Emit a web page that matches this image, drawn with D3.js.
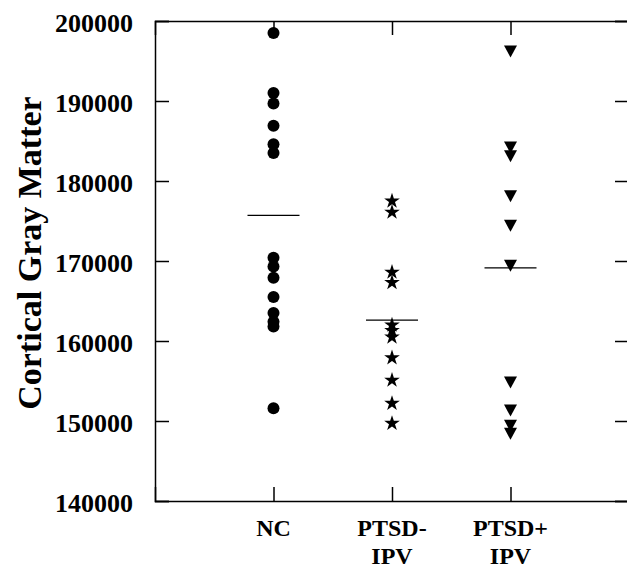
<!DOCTYPE html>
<html>
<head>
<meta charset="utf-8">
<script src="https://cdn.jsdelivr.net/npm/d3@7"></script>
<style>
  body { margin: 0; background: #fff; }
  text { font-family: "Liberation Serif", "Times New Roman", serif; font-weight: bold; fill: #000; }
</style>
</head>
<body>
<svg id="chart" width="627" height="568"></svg>
<script>
// group labels (two lines each)
var groups = [["NC"], ["PTSD-", "IPV"], ["PTSD+", "IPV"]];

var ncValues = [198500, 191000, 189700, 186900, 184600, 183500, 170400, 169300,
                167900, 165500, 163500, 162400, 161800, 151600];
var ptsdNoIpvValues = [177600, 176200, 168700, 167400, 162100, 161400, 160600,
                       158000, 155200, 152300, 149800];
var ptsdIpvValues = [196200, 184200, 183100, 178100, 174400, 169400, 154800,
                     151300, 149400, 148400];
var groupMeans = [175700, 162600, 169150];

var yTicks = [140000, 150000, 160000, 170000, 180000, 190000, 200000];

var svg = d3.select("#chart");

var x = d3.scaleLinear().domain([0, 4]).range([155, 629]);
var y = d3.scaleLinear().domain([140000, 200000]).range([501, 21]);

/*========== frame + ticks ===========*/
var tickLen = 14;

svg.append("g")
    .attr("transform", "translate(" + x(0) + ",0)")
    .call(d3.axisLeft(y).tickValues(yTicks).tickSize(-tickLen).tickFormat(d3.format("d")).tickPadding(22))
    .call(function (g) {
        g.select(".domain").attr("stroke-width", 1.5);
        g.selectAll(".tick line").attr("stroke-width", 1.5);
        g.selectAll(".tick text")
            .style("font-size", "26px")
            .attr("dy", "0.42em");
    });

svg.append("g")
    .attr("transform", "translate(" + x(4) + ",0)")
    .call(d3.axisRight(y).tickValues(yTicks).tickSize(-tickLen).tickFormat(""))
    .call(function (g) {
        g.select(".domain").attr("stroke-width", 1.5);
        g.selectAll(".tick line").attr("stroke-width", 1.5);
    });

svg.append("g")
    .attr("transform", "translate(0," + y(140000) + ")")
    .call(d3.axisBottom(x).tickValues([1, 2, 3]).tickSize(-tickLen).tickFormat(""))
    .call(function (g) {
        g.select(".domain").attr("stroke-width", 1.5);
        g.selectAll(".tick line").attr("stroke-width", 1.5);
    });

svg.append("g")
    .attr("transform", "translate(0," + y(200000) + ")")
    .call(d3.axisTop(x).tickValues([1, 2, 3]).tickSize(-tickLen).tickFormat(""))
    .call(function (g) {
        g.select(".domain").attr("stroke-width", 1.5);
        g.selectAll(".tick line").attr("stroke-width", 1.5);
    });

/*========== group labels ===========*/
var labels = svg.append("g")
    .selectAll(".groupLabel")
    .data(groups)
    .enter()
    .append("text")
    .attr("class", "groupLabel")
    .attr("text-anchor", "middle")
    .style("font-size", "24px")
    .attr("transform", function (d, i) {
        return "translate(" + x(i + 1) + ",536)";
    });

labels.selectAll("tspan")
    .data(function (d) { return d; })
    .enter()
    .append("tspan")
    .attr("x", 0)
    .attr("y", function (d, i) { return i * 28; })
    .text(function (d) { return d; });

/*========== y title ===========*/
svg.append("text")
    .attr("transform", "translate(41," + 253 + ") rotate(-90)")
    .attr("text-anchor", "middle")
    .style("font-size", "34px")
    .text("Cortical Gray Matter");

/*========== markers ===========*/
function downTriangle() {
    var w = 6.5, h = 6;
    return "M" + (-w) + "," + (-h) + "L" + w + "," + (-h) + "L0," + h + "Z";
}

svg.append("g")
    .selectAll("circle")
    .data(ncValues)
    .enter()
    .append("circle")
    .attr("cx", x(1))
    .attr("cy", function (d) { return y(d); })
    .attr("r", 6)
    .attr("fill", "#000");

svg.append("g")
    .selectAll("path")
    .data(ptsdNoIpvValues)
    .enter()
    .append("path")
    .attr("d", d3.symbol().type(d3.symbolStar).size(76))
    .attr("transform", function (d) {
        return "translate(" + x(2) + "," + (y(d) + 0.8) + ")";
    })
    .attr("fill", "#000");

svg.append("g")
    .selectAll("path")
    .data(ptsdIpvValues)
    .enter()
    .append("path")
    .attr("d", downTriangle())
    .attr("transform", function (d) {
        return "translate(" + x(3) + "," + y(d) + ")";
    })
    .attr("fill", "#000");

/*========== mean lines ===========*/
svg.append("g")
    .selectAll("line")
    .data(groupMeans)
    .enter()
    .append("line")
    .attr("x1", function (d, i) { return x(i + 1) - 26; })
    .attr("x2", function (d, i) { return x(i + 1) + 26; })
    .attr("y1", function (d) { return y(d); })
    .attr("y2", function (d) { return y(d); })
    .attr("stroke", "#000")
    .attr("stroke-width", 1.3);
</script>
</body>
</html>
